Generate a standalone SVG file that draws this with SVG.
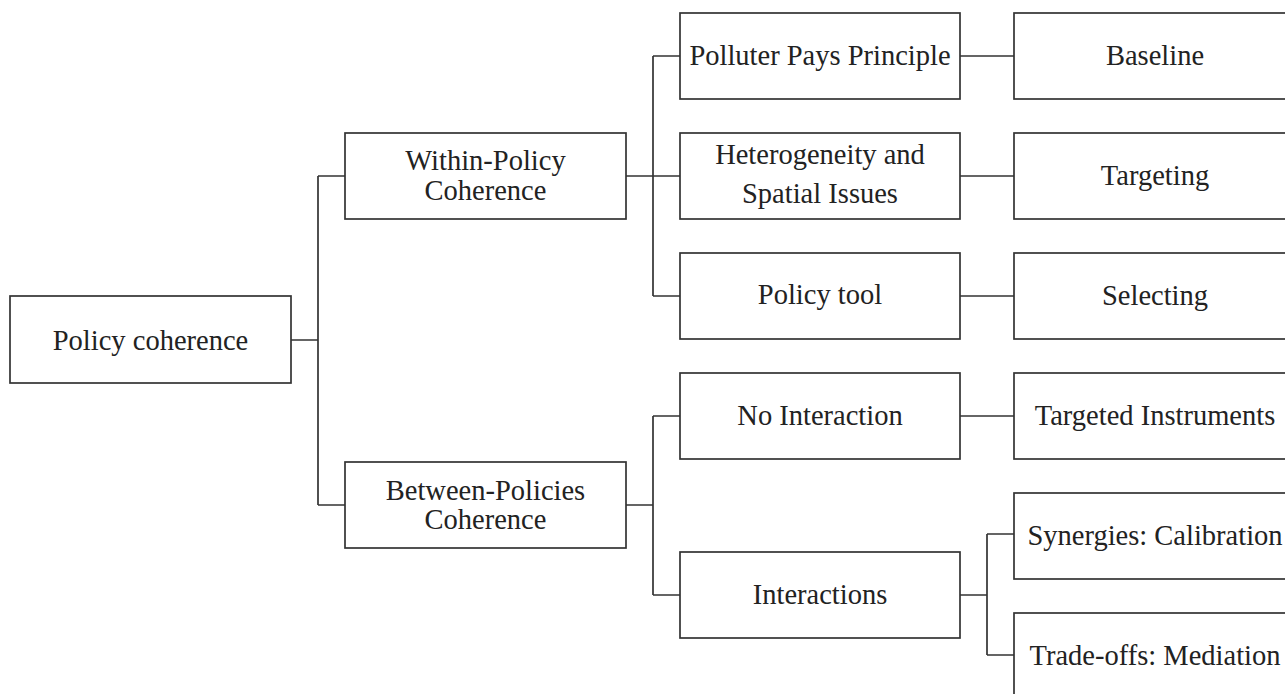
<svg xmlns="http://www.w3.org/2000/svg" width="1285" height="694" viewBox="0 0 1285 694">
  <style>
    .box { fill: #ffffff; stroke: #333333; stroke-width: 1.7; }
    .lbl { font-family: "Liberation Serif", "Times New Roman", serif; font-size: 28.5px; fill: #222222; text-anchor: middle; }
    .conn { fill: none; stroke: #333333; stroke-width: 1.7; }
  </style>
  <rect width="1285" height="694" fill="#ffffff"/>

  <!-- connectors -->
  <g id="connectors" class="conn">
    <path d="M291 340 H318 M318 176 V505 M318 176 H345 M318 505 H345"/>
    <path d="M626 176 H653 M653 56 V296 M653 56 H680 M653 176 H680 M653 296 H680"/>
    <path d="M960 56 H1014 M960 176 H1014 M960 296 H1014"/>
    <path d="M626 505 H653 M653 416 V595 M653 416 H680 M653 595 H680"/>
    <path d="M960 416 H1014"/>
    <path d="M960 595 H987 M987 534 V655 M987 534 H1014 M987 655 H1014"/>
  </g>

  <!-- root -->
  <g id="policy-coherence">
    <rect class="box" x="10" y="296" width="281" height="87"/>
    <text class="lbl" x="150.5" y="350">Policy coherence</text>
  </g>

  <!-- level 1 -->
  <g id="within-policy">
    <rect class="box" x="345" y="133" width="281" height="86"/>
    <text class="lbl" x="485.5" y="170">Within-Policy</text>
    <text class="lbl" x="485.5" y="200">Coherence</text>
  </g>
  <g id="between-policies">
    <rect class="box" x="345" y="462" width="281" height="86"/>
    <text class="lbl" x="485.5" y="500">Between-Policies</text>
    <text class="lbl" x="485.5" y="529">Coherence</text>
  </g>

  <!-- level 2 -->
  <g id="polluter-pays">
    <rect class="box" x="680" y="13" width="280" height="86"/>
    <text class="lbl" x="820" y="65">Polluter Pays Principle</text>
  </g>
  <g id="heterogeneity">
    <rect class="box" x="680" y="133" width="280" height="86"/>
    <text class="lbl" x="820" y="164">Heterogeneity and</text>
    <text class="lbl" x="820" y="203">Spatial Issues</text>
  </g>
  <g id="policy-tool">
    <rect class="box" x="680" y="253" width="280" height="86"/>
    <text class="lbl" x="820" y="304">Policy tool</text>
  </g>
  <g id="no-interaction">
    <rect class="box" x="680" y="373" width="280" height="86"/>
    <text class="lbl" x="820" y="425">No Interaction</text>
  </g>
  <g id="interactions">
    <rect class="box" x="680" y="552" width="280" height="86"/>
    <text class="lbl" x="820" y="604">Interactions</text>
  </g>

  <!-- level 3 -->
  <g id="baseline">
    <rect class="box" x="1014" y="13" width="282" height="86"/>
    <text class="lbl" x="1155" y="65">Baseline</text>
  </g>
  <g id="targeting">
    <rect class="box" x="1014" y="133" width="282" height="86"/>
    <text class="lbl" x="1155" y="185">Targeting</text>
  </g>
  <g id="selecting">
    <rect class="box" x="1014" y="253" width="282" height="86"/>
    <text class="lbl" x="1155" y="305">Selecting</text>
  </g>
  <g id="targeted-instruments">
    <rect class="box" x="1014" y="373" width="282" height="86"/>
    <text class="lbl" x="1155" y="425">Targeted Instruments</text>
  </g>
  <g id="synergies">
    <rect class="box" x="1014" y="493" width="282" height="86"/>
    <text class="lbl" x="1155" y="545">Synergies: Calibration</text>
  </g>
  <g id="trade-offs">
    <rect class="box" x="1014" y="613" width="282" height="86"/>
    <text class="lbl" x="1155" y="665">Trade-offs: Mediation</text>
  </g>
</svg>
